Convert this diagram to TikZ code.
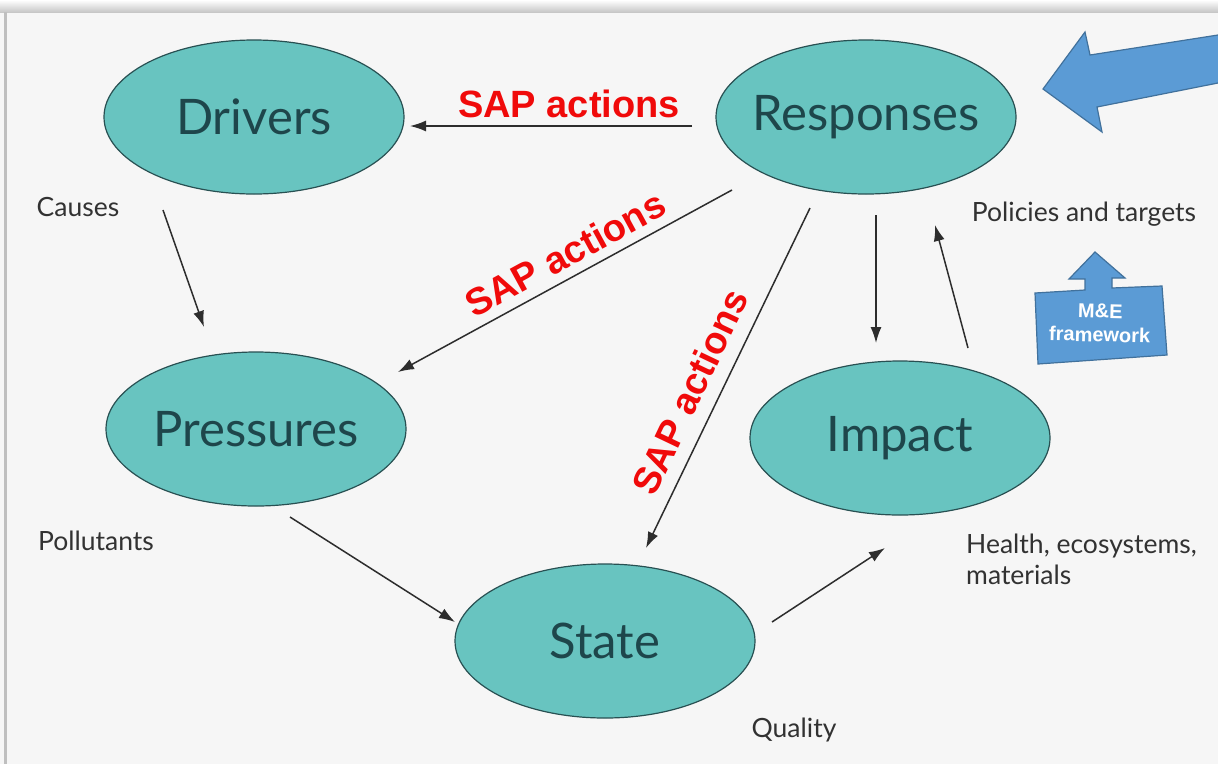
\documentclass[tikz,border=0pt]{standalone}
\usepackage{fontspec}
\setmainfont{Lato}
\newfontfamily\sapfont{Liberation Sans}
\usetikzlibrary{shapes.geometric,arrows.meta,calc}
\definecolor{bgc}{RGB}{246,246,246}
\definecolor{tealfill}{RGB}{104,196,192}
\definecolor{tealline}{RGB}{40,80,82}
\definecolor{tealtext}{RGB}{30,70,75}
\definecolor{arrc}{RGB}{45,45,45}
\definecolor{bluefill}{RGB}{91,155,213}
\definecolor{blueline}{RGB}{65,113,156}
\definecolor{sapred}{RGB}{240,10,10}
\definecolor{labc}{RGB}{50,50,50}
\tikzset{
  blob/.style={ellipse, draw=tealline, line width=1.2pt, fill=tealfill,
    minimum width=300, minimum height=154, inner xsep=-30pt, inner ysep=0pt,
    text=tealtext, font=\fontsize{49}{52}\selectfont},
  arr/.style={draw=arrc, line width=1.5pt, -{Latex[length=16,width=11]}},
  sap/.style={text=sapred, font=\sapfont\bfseries\fontsize{38}{42}\selectfont, inner sep=0},
  lab/.style={text=labc, font=\fontsize{26.5}{31}\selectfont, inner sep=0},
  bigarrow/.style={fill=bluefill, draw=blueline, line width=1.2pt, line join=miter},
}
\begin{document}
\begin{tikzpicture}[x=1pt,y=-1pt]
\useasboundingbox (0,0) rectangle (1218,764);
\fill[bgc] (0,0) rectangle (1218,764);
\shade[top color=white, bottom color=black!22] (0,0) rectangle (1218,12);
\fill[black!25] (4,12) rectangle (7,764);

% ellipses
\node[blob] (drivers) at (254,117) {Drivers};
\node[blob] (resp) at (866,117) {Responses};
\node[blob] (press) at (256,429) {Pressures};
\node[blob] (impact) at (900,438) {Impact};
\node[blob] (state) at (605,641) {State};

% arrow end points
\coordinate (rd1) at (692,126); \coordinate (rd2) at (410,126);
\coordinate (rp1) at (732,190); \coordinate (rp2) at (398,372);
\coordinate (rs1) at (810,208); \coordinate (rs2) at (646,548);
\coordinate (ri1) at (876,215); \coordinate (ri2) at (876,343);
\coordinate (ir1) at (968,348); \coordinate (ir2) at (935,225);
\coordinate (dp1) at (163,210); \coordinate (dp2) at (204,327);
\coordinate (ps1) at (290,517); \coordinate (ps2) at (455,622);
\coordinate (si1) at (772,622); \coordinate (si2) at (885,548);

\draw[arr] (rd1) -- (rd2);
\draw[arr] (rp1) -- (rp2);
\draw[arr] (rs1) -- (rs2);
\draw[arr] (ri1) -- (ri2);
\draw[arr] (ir1) -- (ir2);
\draw[arr] (dp1) -- (dp2);
\draw[arr] (ps1) -- (ps2);
\draw[arr] (si1) -- (si2);

% SAP labels
\node[sap] (sap1) at (569,104) {SAP actions};
\node[sap, rotate=28.6] (sap2) at (565,254) {SAP actions};
\node[sap, rotate=64.5] (sap3) at (690,392) {SAP actions};

% small labels
\node[lab] (causes) at (78,207) {Causes};
\node[lab] (pollut) at (96,541) {Pollutants};
\node[lab] (quality) at (794,730) {Quality};
\node[lab] (policies) at (1084,214) {Policies and targets};
\node[lab, align=left, anchor=north west] (health) at (966,534) {Health, ecosystems,\\materials};

% big blue arrow
\filldraw[bigarrow] (1218,35) -- (1090,55) -- (1085,32) -- (1043,89) -- (1102,132) -- (1097,107) -- (1218,83);

% M&E framework callout
\filldraw[bigarrow] (1035,293) -- (1085,290) -- (1085,279) -- (1069,279) -- (1095,252) -- (1125,278) -- (1112,278) -- (1112,288) -- (1162,286) -- (1167,355) -- (1038,364) -- cycle;
\node[text=white, font=\sapfont\bfseries\fontsize{20}{24}\selectfont, align=center, rotate=-1.5] (me) at (1100,323) {M\&E\\framework};
\end{tikzpicture}
\end{document}
